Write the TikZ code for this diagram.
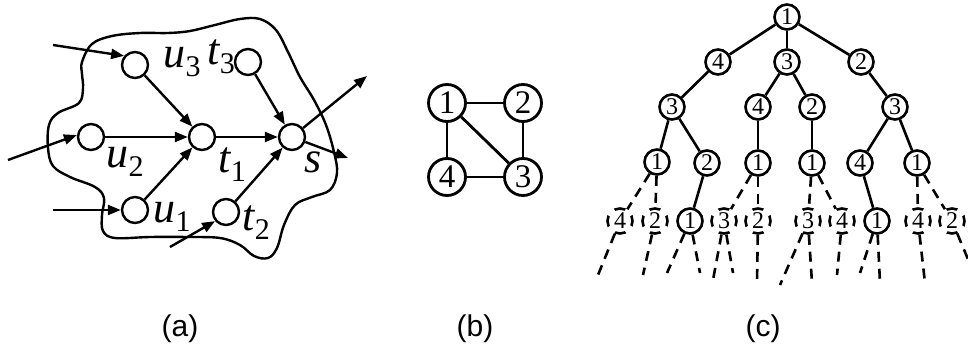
\documentclass[tikz,border=0pt]{standalone}
\usepackage{fontspec}
\setmainfont{Liberation Serif}
\newfontfamily\arialf{Liberation Sans}
\usetikzlibrary{arrows.meta}
\newcommand{\alab}[2]{{\fontsize{44pt}{44pt}\selectfont\itshape #1}\kern0.5pt\raisebox{-9pt}{\fontsize{30pt}{30pt}\selectfont #2}}
\begin{document}
\begin{tikzpicture}[x=1pt,y=-1pt,
  anode/.style={circle,draw,line width=2.4pt,minimum size=26pt,inner sep=0pt},
  alabel/.style={anchor=base west,inner sep=0pt},
  arr/.style={line width=2.4pt,-{Triangle[length=13pt,width=10pt]}},
  bnode/.style={circle,draw,line width=2.8pt,minimum size=37pt,inner sep=0pt,font=\fontsize{33pt}{33pt}\selectfont},
  bedge/.style={line width=2.8pt},
  cnode/.style={circle,draw,line width=2.6pt,minimum size=25pt,inner sep=0pt,font=\fontsize{24pt}{24pt}\selectfont},
  dnode/.style={cnode,dash pattern=on 11pt off 8.6pt,dash phase=5.5pt},
  cedge/.style={line width=2.6pt},
  dedge/.style={line width=2.6pt,dash pattern=on 10pt off 7pt},
  caption/.style={font=\arialf\fontsize{30pt}{30pt}\selectfont,inner sep=0pt}
]
\useasboundingbox (0,0) rectangle (968,352);
% ---------------- (a) ----------------
\draw[line width=2.4pt] plot[smooth cycle,tension=0.6] coordinates {
 (82,62) (92,44) (112,36) (140,33) (168,33) (190,31) (215,25) (240,19) (260,19)
 (276,30) (288,52) (300,77) (314,100) (326,125) (334,152) (337,173) (330,190)
 (312,197) (295,205) (284,225) (277,248) (268,258) (254,256) (240,245) (220,238)
 (187,237) (150,237) (115,238) (103,231) (102,215) (104,198) (95,187) (70,177)
 (53,166) (48,148) (49,125) (58,113) (79,103) (83,88) (82,74)};
\node[anode] (u3) at (135,65) {};
\node[anode] (t3) at (248,62) {};
\node[anode] (u2) at (91,137) {};
\node[anode] (t1) at (202,137) {};
\node[anode] (s) at (292,137) {};
\node[anode] (u1) at (135,210) {};
\node[anode] (t2) at (226,212) {};
\node[alabel] (lu3) at (163,68) {\alab{u}{3}};
\node[alabel] (lt3) at (207,65) {\alab{t}{3}};
\node[alabel] (lu2) at (106,168) {\alab{u}{2}};
\node[alabel] (lt1) at (218,173) {\alab{t}{1}};
\node[alabel] (ls) at (304,173) {{\fontsize{44pt}{44pt}\selectfont\itshape s}};
\node[alabel] (lu1) at (153,223) {\alab{u}{1}};
\node[alabel] (lt2) at (242,231) {\alab{t}{2}};
\coordinate (i3) at (53,45);
\coordinate (i2) at (8,160);
\coordinate (i1) at (53,210);
\coordinate (it2) at (170,247);
\coordinate (o1) at (367,76);
\coordinate (o2) at (348,158);
\draw[arr] (i3) -- (u3.140);
\draw[arr] (i2) -- (u2.172);
\draw[arr] (i1) -- (u1.west);
\draw[arr] (it2) -- (t2.220);
\draw[arr] (u3) -- (t1);
\draw[arr] (u2) -- (t1);
\draw[arr] (u1) -- (t1);
\draw[arr] (t1) -- (s);
\draw[arr] (t3) -- (s);
\draw[arr] (t2) -- (s);
\draw[arr] (s) -- (o1);
\draw[arr] (s) -- (o2);
% ---------------- (b) ----------------
\node[bnode] (b1) at (447,103) {1};
\node[bnode] (b2) at (523,103) {2};
\node[bnode] (b4) at (447,177) {4};
\node[bnode] (b3) at (523,177) {3};
\draw[bedge] (b1) -- (b2);
\draw[bedge] (b1) -- (b4);
\draw[bedge] (b2) -- (b3);
\draw[bedge] (b4) -- (b3);
\draw[bedge] (b1) -- (b3);
% ---------------- (c) ----------------
\node[cnode] (r) at (787,17) {1};
\node[cnode] (a4) at (718,62) {4};
\node[cnode] (a3) at (787,62) {3};
\node[cnode] (a2) at (861,62) {2};
\node[cnode] (p3) at (672,107) {3};
\node[cnode] (p4) at (758,107) {4};
\node[cnode] (p2) at (812,107) {2};
\node[cnode] (q3) at (895,107) {3};
\node[cnode] (c1) at (657,162) {1};
\node[cnode] (c2) at (707,163) {2};
\node[cnode] (c1b) at (758,163) {1};
\node[cnode] (c1c) at (812,163) {1};
\node[cnode] (c4) at (860,163) {4};
\node[cnode] (c1d) at (917,163) {1};
\node[dnode] (d4) at (620,221) {4};
\node[dnode] (d2) at (655,221) {2};
\node[cnode] (e1) at (690,221) {1};
\node[dnode] (d3) at (724,221) {3};
\node[dnode] (d2b) at (758,221) {2};
\node[dnode] (d3b) at (808,221) {3};
\node[dnode] (d4b) at (842,221) {4};
\node[cnode] (e1b) at (877,221) {1};
\node[dnode] (d4c) at (918,221) {4};
\node[dnode] (d2c) at (952,221) {2};
\draw[cedge] (r) -- (a4);
\draw[cedge] (r) -- (a3);
\draw[cedge] (r) -- (a2);
\draw[cedge] (a4) -- (p3);
\draw[cedge] (a3) -- (p4);
\draw[cedge] (a3) -- (p2);
\draw[cedge] (a2) -- (q3);
\draw[cedge] (p3) -- (c1);
\draw[cedge] (p3) -- (c2);
\draw[cedge] (p4) -- (c1b);
\draw[cedge] (p2) -- (c1c);
\draw[cedge] (q3) -- (c4);
\draw[cedge] (q3) -- (c1d);
\draw[dedge] (c1) -- (d4);
\draw[dedge] (c1) -- (d2);
\draw[cedge] (c2) -- (e1);
\draw[dedge] (c1b) -- (d3);
\draw[dedge] (c1b) -- (d2b);
\draw[dedge] (c1c) -- (d3b);
\draw[dedge] (c1c) -- (d4b);
\draw[cedge] (c4) -- (e1b);
\draw[dedge] (c1d) -- (d4c);
\draw[dedge] (c1d) -- (d2c);
\coordinate (f1) at (598,275);
\coordinate (f2) at (643,275);
\coordinate (f3) at (667,273);
\coordinate (f4) at (700,273);
\coordinate (f5) at (713,280);
\coordinate (f6) at (733,273);
\coordinate (f7) at (757,283);
\coordinate (f8) at (780,285);
\coordinate (f9) at (812,283);
\coordinate (f10) at (837,275);
\coordinate (f11) at (860,273);
\coordinate (f12) at (880,283);
\coordinate (f13) at (925,283);
\coordinate (f14) at (975,276);
\draw[dedge] (d4) -- (f1);
\draw[dedge] (d2) -- (f2);
\draw[dedge] (e1) -- (f3);
\draw[dedge] (e1) -- (f4);
\draw[dedge] (d3) -- (f5);
\draw[dedge] (d3) -- (f6);
\draw[dedge] (d2b) -- (f7);
\draw[dedge] (d3b) -- (f8);
\draw[dedge] (d3b) -- (f9);
\draw[dedge] (d4b) -- (f10);
\draw[dedge] (e1b) -- (f11);
\draw[dedge] (e1b) -- (f12);
\draw[dedge] (d4c) -- (f13);
\draw[dedge] (d2c) -- (f14);
% ---------------- captions ----------------
\node[caption] (ca) at (180,329) {(a)};
\node[caption] (cb) at (475,329) {(b)};
\node[caption] (cc) at (763,329) {(c)};
\end{tikzpicture}
\end{document}
